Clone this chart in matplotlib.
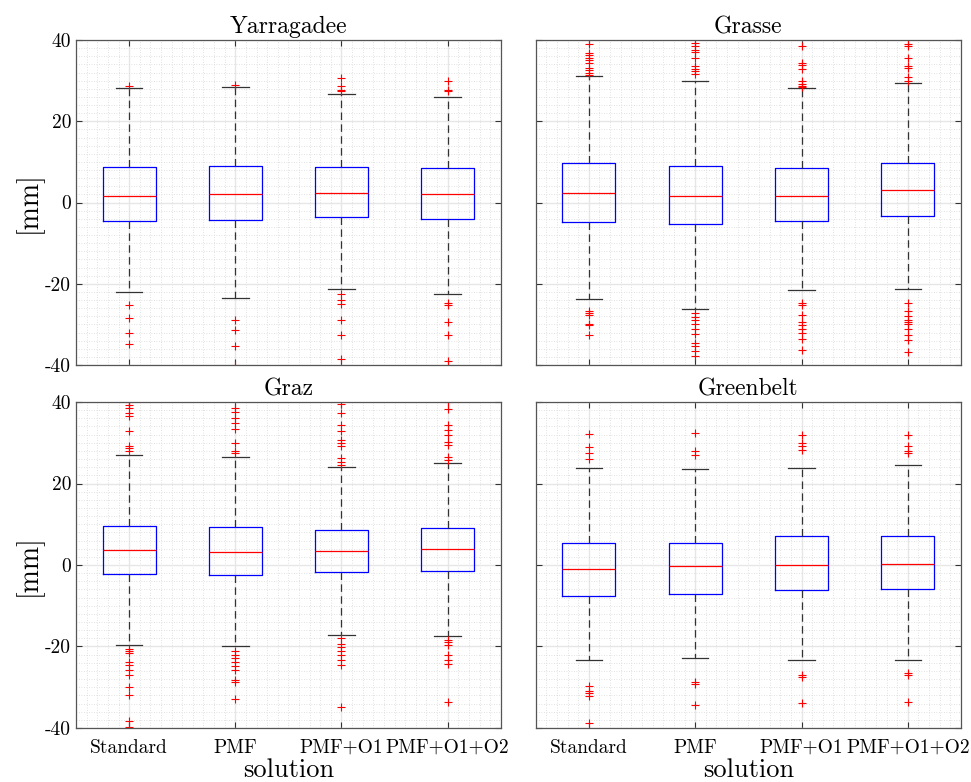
import numpy as np
import matplotlib
matplotlib.use("Agg")
import matplotlib.pyplot as plt
from matplotlib.ticker import MultipleLocator

plt.rcParams['font.family'] = ['cmr10', 'DejaVu Serif']
plt.rcParams['mathtext.fontset'] = 'cm'
plt.rcParams['axes.unicode_minus'] = False
plt.rcParams['axes.formatter.use_mathtext'] = False

stations = ['Yarragadee', 'Grasse', 'Graz', 'Greenbelt']
solutions = ['Standard', 'PMF', 'PMF+O1', 'PMF+O1+O2']

# box statistics [mm]
whislo = {
    'Yarragadee': [-22.1, -23.6, -21.4, -22.6],
    'Grasse': [-23.7, -26.3, -21.6, -21.2],
    'Graz': [-19.7, -20.0, -17.2, -17.4],
    'Greenbelt': [-23.3, -22.9, -23.3, -23.2],
}
q1 = {
    'Yarragadee': [-4.6, -4.3, -3.5, -4.1],
    'Grasse': [-4.7, -5.2, -4.5, -3.3],
    'Graz': [-2.2, -2.5, -1.6, -1.5],
    'Greenbelt': [-7.5, -7.0, -6.1, -6.0],
}
med = {
    'Yarragadee': [1.7, 2.1, 2.4, 2.0],
    'Grasse': [2.3, 1.6, 1.7, 3.1],
    'Graz': [3.8, 3.3, 3.5, 3.9],
    'Greenbelt': [-1.1, -0.2, 0.0, 0.2],
}
q3 = {
    'Yarragadee': [8.7, 8.9, 8.7, 8.4],
    'Grasse': [9.7, 8.9, 8.6, 9.8],
    'Graz': [9.5, 9.3, 8.7, 9.2],
    'Greenbelt': [5.3, 5.3, 7.0, 7.0],
}
whishi = {
    'Yarragadee': [28.3, 28.5, 26.6, 25.9],
    'Grasse': [31.1, 29.9, 28.2, 29.4],
    'Graz': [26.9, 26.6, 24.0, 25.0],
    'Greenbelt': [23.9, 23.6, 23.9, 24.6],
}
fliers = {
    'Yarragadee': [
        [28.8, -25.3, -28.4, -32.2, -34.9],
        [29.0, -28.8, -31.4, -35.4, -39.9],
        [30.6, 28.8, 27.7, 27.5, -22.5, -24.0, -24.9, -28.8, -32.6, -38.5],
        [30.0, 27.8, 27.4, -24.8, -25.1, -29.3, -32.7, -39.0],
    ],
    'Grasse': [
        [39.1, 36.8, 36.4, 35.6, 35.0, 34.4, 33.0, 32.7, 31.9, 31.5,
         -26.7, -27.1, -27.7, -29.8, -30.2, -32.7],
        [39.3, 38.6, 37.6, 37.0, 35.6, 33.7, 32.9, 32.3, 31.7,
         -27.3, -28.1, -29.0, -29.8, -31.1, -32.3, -34.5, -35.2, -36.6, -37.8],
        [38.5, 34.4, 33.8, 32.9, 29.8, 29.3, 28.6, 28.5,
         -24.7, -25.1, -27.6, -29.4, -30.2, -31.2, -32.2, -33.7, -36.2],
        [39.1, 38.6, 35.7, 33.6, 33.0, 30.8, 29.8,
         -24.8, -26.7, -28.0, -28.8, -29.4, -30.0, -31.2, -32.5, -33.9, -36.7],
    ],
    'Graz': [
        [39.9, 39.3, 38.5, 37.3, 36.6, 32.9, 29.1, 28.7, 28.1,
         -20.5, -21.1, -21.7, -23.8, -24.6, -25.8, -27.0, -29.9, -32.0, -38.3, -39.8],
        [38.5, 37.5, 36.2, 34.8, 33.4, 29.9, 28.0, 27.6,
         -21.1, -22.1, -22.8, -23.8, -24.8, -25.7, -28.3, -28.8, -32.8],
        [39.6, 37.3, 34.4, 32.8, 30.7, 29.9, 29.1, 26.2, 25.4, 24.6,
         -18.0, -19.3, -20.1, -21.1, -22.1, -23.4, -24.6, -34.8],
        [39.9, 38.3, 34.4, 33.2, 32.0, 30.3, 29.5, 26.5, 25.8,
         -18.3, -18.9, -19.7, -22.1, -23.2, -24.2, -33.6],
    ],
    'Greenbelt': [
        [32.2, 28.9, 27.6, 26.0, -29.7, -30.9, -31.3, -32.2, -38.8],
        [32.4, 27.9, 27.0, -28.8, -29.3, -34.3],
        [31.9, 29.9, 29.1, 28.3, -27.1, -27.6, -33.8],
        [31.8, 29.3, 27.9, 27.5, -26.6, -27.1, -33.6],
    ],
}

fig = plt.figure(figsize=(9.71, 7.82), dpi=100)
boxes = [[0.0783, 0.5332, 0.4374, 0.4156],
         [0.5517, 0.5332, 0.4380, 0.4156],
         [0.0783, 0.0691, 0.4374, 0.4168],
         [0.5517, 0.0691, 0.4380, 0.4168]]

for k, st in enumerate(stations):
    ax = fig.add_axes(boxes[k])
    stats = []
    for i in range(4):
        stats.append(dict(whislo=whislo[st][i], q1=q1[st][i], med=med[st][i],
                          q3=q3[st][i], whishi=whishi[st][i], fliers=fliers[st][i]))
    ax.bxp(stats, positions=[1, 2, 3, 4], widths=0.5, capwidths=0.25,
           boxprops=dict(color='#0000ff', linewidth=0.9),
           medianprops=dict(color='#ff0000', linewidth=0.9),
           whiskerprops=dict(color='#333333', linewidth=0.9, linestyle=(0, (6, 3.5))),
           capprops=dict(color='#333333', linewidth=0.9),
           flierprops=dict(marker='+', markeredgecolor='#ff0000', markersize=6,
                           markeredgewidth=0.8, linestyle='none'),
           manage_ticks=False)
    ax.set_xlim(0.5, 4.5)
    ax.set_ylim(-40, 40)
    ax.set_xticks([1, 2, 3, 4])
    ax.set_yticks([-40, -20, 0, 20, 40])
    ax.xaxis.set_minor_locator(MultipleLocator(0.1))
    ax.yaxis.set_minor_locator(MultipleLocator(2))
    ax.grid(which='major', color='#e6e6e6', linewidth=1.0)
    ax.grid(which='minor', color='#d8d8d8', linewidth=0.6, linestyle=(0, (1, 2)))
    ax.set_axisbelow(True)
    ax.tick_params(which='both', direction='in', top=True, right=True, labelsize=14,
                   color='#333333')
    ax.tick_params(which='minor', length=0)
    ax.tick_params(which='major', length=4)
    ax.tick_params(axis='x', which='major', pad=8)
    for sp in ax.spines.values():
        sp.set_color('#555555')
        sp.set_linewidth(0.9)
    ax.set_title(st, fontsize=17, pad=5)
    if k >= 2:
        ax.set_xticklabels(solutions)
        ax.set_xlabel('solution', fontsize=19, labelpad=1)
    else:
        ax.set_xticklabels([])
    if k % 2 == 0:
        ax.set_ylabel('[mm]', fontsize=20, labelpad=2)
    else:
        ax.set_yticklabels([])

fig.savefig('out.png', dpi=100)
